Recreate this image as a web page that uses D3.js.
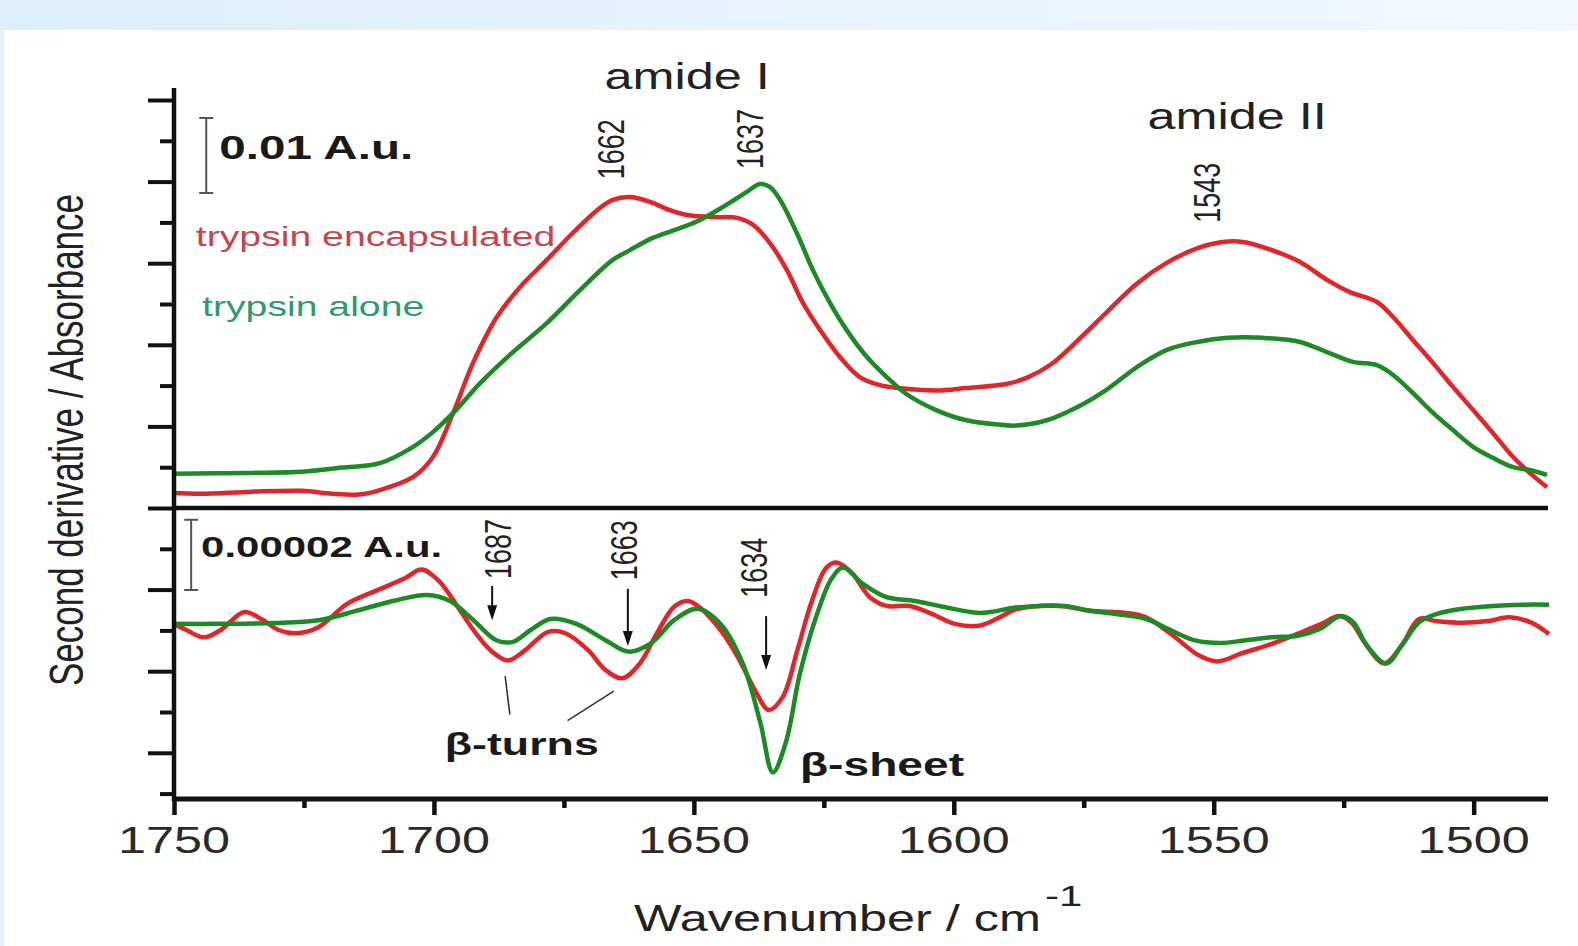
<!DOCTYPE html>
<html>
<head>
<meta charset="utf-8">
<script src="https://cdn.jsdelivr.net/npm/d3@7"></script>
<style>
  body { margin: 0; background: #fff; }
  text { font-family: "Liberation Sans", Arial, sans-serif; }
</style>
</head>
<body>
<div id="container"></div>
<script>
// spectra: [wavenumber, value in tick units]
const topRed = [[1750.0,0.37],[1744.8,0.35],[1735.1,0.40],[1725.4,0.42],[1719.6,0.35],[1714.5,0.33],[1710.4,0.44],[1704.0,0.76],[1700.2,1.25],[1696.3,2.33],[1692.5,3.55],[1687.9,4.68],[1683.4,5.42],[1678.3,6.08],[1673.3,6.74],[1668.6,7.30],[1665.6,7.55],[1662.3,7.62],[1658.4,7.50],[1654.6,7.30],[1651.3,7.18],[1646.3,7.13],[1641.7,7.11],[1638.6,6.94],[1635.4,6.50],[1632.1,5.83],[1629.0,5.02],[1625.7,4.36],[1621.9,3.70],[1618.1,3.21],[1614.2,3.01],[1610.7,2.94],[1603.4,2.88],[1597.6,2.94],[1589.9,3.04],[1586.0,3.19],[1581.2,3.53],[1575.4,4.20],[1570.5,4.81],[1564.7,5.51],[1558.9,6.02],[1553.1,6.37],[1548.3,6.52],[1544.4,6.52],[1539.5,6.35],[1533.4,6.03],[1528.2,5.59],[1523.8,5.29],[1518.6,5.05],[1515.5,4.68],[1511.7,4.12],[1507.8,3.55],[1504.0,2.97],[1500.1,2.40],[1496.3,1.84],[1492.4,1.25],[1489.2,0.86],[1485.9,0.51]]

const topGreen = [[1750.0,0.84],[1735.1,0.86],[1725.4,0.89],[1717.7,0.99],[1710.4,1.10],[1704.0,1.50],[1700.2,1.86],[1696.3,2.33],[1691.1,3.06],[1684.8,3.82],[1678.3,4.53],[1671.9,5.34],[1665.6,6.08],[1662.3,6.32],[1657.9,6.62],[1652.7,6.86],[1648.8,7.06],[1644.4,7.38],[1639.8,7.75],[1637.3,7.94],[1635.4,7.87],[1633.4,7.55],[1630.2,6.74],[1627.1,5.83],[1623.8,5.02],[1620.6,4.36],[1616.7,3.70],[1612.9,3.21],[1609.2,2.80],[1603.4,2.40],[1597.6,2.15],[1591.8,2.05],[1588.0,2.02],[1582.1,2.15],[1576.3,2.47],[1570.5,2.91],[1564.7,3.46],[1558.9,3.88],[1553.1,4.07],[1547.3,4.17],[1540.5,4.17],[1533.4,4.07],[1528.2,3.82],[1523.2,3.58],[1518.6,3.50],[1515.5,3.26],[1511.7,2.82],[1507.8,2.33],[1504.0,1.91],[1500.1,1.50],[1496.3,1.23],[1492.4,1.00],[1489.2,0.93],[1485.9,0.81]]

const botRed = [[1750.0,4.16],[1747.6,4.01],[1744.3,3.83],[1741.0,4.01],[1736.5,4.45],[1733.2,4.28],[1729.9,4.01],[1726.6,3.93],[1722.2,4.08],[1716.7,4.65],[1711.2,4.97],[1705.7,5.27],[1702.4,5.49],[1699.1,5.22],[1695.8,4.65],[1692.4,4.01],[1689.1,3.51],[1685.8,3.26],[1682.5,3.51],[1678.1,3.96],[1674.7,3.93],[1670.3,3.51],[1667.0,3.03],[1663.7,2.83],[1660.4,3.19],[1657.1,3.93],[1653.8,4.58],[1651.1,4.72],[1648.3,4.50],[1644.9,4.01],[1641.6,3.36],[1638.3,2.55],[1635.6,2.05],[1632.9,2.37],[1630.1,3.51],[1627.3,4.72],[1624.5,5.54],[1622.4,5.66],[1619.5,5.39],[1616.2,4.82],[1612.9,4.60],[1608.5,4.60],[1604.1,4.40],[1599.8,4.16],[1594.9,4.12],[1591.2,4.32],[1587.9,4.52],[1579.6,4.60],[1573.8,4.48],[1567.0,4.43],[1563.0,4.32],[1557.9,3.88],[1552.9,3.39],[1549.2,3.24],[1544.6,3.44],[1538.8,3.67],[1533.0,3.96],[1529.3,4.16],[1525.9,4.35],[1523.5,4.19],[1521.0,3.71],[1517.2,3.19],[1513.8,3.64],[1510.5,4.28],[1507.2,4.23],[1502.2,4.19],[1497.2,4.23],[1493.1,4.32],[1488.9,4.19],[1485.5,3.91]]

const botGreen = [[1750.0,4.16],[1742.1,4.16],[1731.0,4.18],[1722.2,4.25],[1714.6,4.49],[1707.9,4.72],[1701.3,4.87],[1696.9,4.72],[1692.4,4.25],[1688.0,3.76],[1684.8,3.72],[1681.4,4.01],[1677.6,4.28],[1672.6,4.16],[1667.0,3.76],[1662.6,3.48],[1658.2,3.69],[1653.8,4.25],[1649.3,4.53],[1644.9,4.16],[1640.6,3.19],[1637.2,1.73],[1634.8,0.52],[1632.3,1.26],[1629.6,2.94],[1626.3,4.40],[1623.5,5.27],[1621.3,5.54],[1617.5,5.14],[1613.1,4.82],[1607.5,4.72],[1602.1,4.58],[1595.4,4.43],[1592.9,4.45],[1588.7,4.55],[1583.7,4.60],[1578.7,4.60],[1573.8,4.48],[1568.8,4.40],[1563.0,4.28],[1558.7,4.03],[1553.8,3.76],[1548.8,3.69],[1543.8,3.76],[1538.8,3.83],[1533.8,3.87],[1529.7,4.03],[1525.5,4.35],[1523.1,4.19],[1520.6,3.64],[1516.8,3.19],[1513.8,3.64],[1510.5,4.20],[1507.2,4.40],[1502.2,4.53],[1496.3,4.60],[1490.6,4.63],[1485.5,4.63]]

const xTicks = [1750, 1700, 1650, 1600, 1550, 1500]
const xMinor = [1725, 1675, 1625, 1575, 1525]

// peak labels (label position, bottom end of the text)
const topPeaks = [
  { t: "1662", wn: 1663.4, y: 8.06 },
  { t: "1637", wn: 1636.7, y: 8.31 },
  { t: "1543", wn: 1548.8, y: 6.99 }
]
const botPeaks = [
  { t: "1687", wn: 1685.2, y: 5.26, at: 1688.8, tail: 5.09, tip: 4.25 },
  { t: "1663", wn: 1661.0, y: 5.23, at: 1662.7, tail: 5.02, tip: 3.62 },
  { t: "1634", wn: 1635.9, y: 4.80, at: 1636.1, tail: 4.35, tip: 3.03 }
]
const turnPointers = [
  [[1686.3, 2.88], [1685.4, 1.94]],
  [[1665.4, 2.51], [1674.3, 1.79]]
]

const red = "#e0262b"
const green = "#1c8a25"
const SX = 1.4 // the original figure is stretched sideways, text too

const w = 1578
const h = 946

const svg = d3.select("#container")
  .append("svg")
  .attr("width", w)
  .attr("height", h)

// page background: pale blue band on top and left
const grad = svg.append("defs").append("linearGradient").attr("id", "band")
grad.append("stop").attr("offset", "0%").attr("stop-color", "#dcedfb")
grad.append("stop").attr("offset", "100%").attr("stop-color", "#f2f8fe")
svg.append("rect").attr("width", w).attr("height", 30).attr("fill", "url(#band)")
svg.append("rect").attr("y", 30).attr("width", 4).attr("height", h - 30).attr("fill", "#e3f1fc")

const x = d3.scaleLinear().domain([1750, 1485.7]).range([174, 1548])
const yTop = d3.scaleLinear().domain([0, 10]).range([508, 100])
const yBot = d3.scaleLinear().domain([0, 7]).range([793.6, 508])
const axisY = 799

const label = (px, py, str, o = {}) => {
  return svg.append("text")
    .attr("transform", `translate(${px},${py}) scale(${SX},1)` + (o.rotate ? ` rotate(${o.rotate})` : ""))
    .attr("text-anchor", o.anchor || "start")
    .attr("font-size", o.size || 36)
    .attr("font-weight", o.bold ? "bold" : "normal")
    .attr("fill", o.fill || "#222")
    .text(str)
}

// curves
const drawCurve = (data, y, color) => {
  const line = d3.line()
    .x(d => x(d[0]))
    .y(d => y(d[1]))
    .curve(d3.curveCatmullRom.alpha(0.5))
  svg.append("path")
    .datum(data)
    .attr("d", line)
    .attr("fill", "none")
    .attr("stroke", color)
    .attr("stroke-width", 4.5)
    .attr("stroke-linejoin", "round")
}
drawCurve(topRed, yTop, red)
drawCurve(topGreen, yTop, green)
drawCurve(botRed, yBot, red)
drawCurve(botGreen, yBot, green)

// left ticks, long and short
const leftTicks = (scale, values, size) => {
  svg.append("g")
    .attr("transform", "translate(174,0)")
    .call(d3.axisLeft(scale).tickValues(values).tickSize(size).tickFormat(""))
    .call(g => g.select(".domain").remove())
    .call(g => g.selectAll("line").attr("stroke", "#111").attr("stroke-width", 4))
}
leftTicks(yTop, [0, 2, 4, 6, 8, 10], 26)
leftTicks(yTop, [1, 3, 5, 7, 9], 14)
leftTicks(yBot, [1, 3, 5], 26)
leftTicks(yBot, [0, 2, 4, 6], 14)

// bottom ticks
const bottomTicks = (values, size) => {
  svg.append("g")
    .attr("transform", `translate(0,${axisY})`)
    .call(d3.axisBottom(x).tickValues(values).tickSize(size).tickFormat(""))
    .call(g => g.select(".domain").remove())
    .call(g => g.selectAll("line").attr("stroke", "#111").attr("stroke-width", 4.5))
}
bottomTicks(xTicks, 16)
bottomTicks(xMinor, 9)

// frame lines
svg.append("line").attr("x1", 174).attr("x2", 174).attr("y1", 88).attr("y2", axisY + 2)
  .attr("stroke", "#111").attr("stroke-width", 4.5)
svg.append("line").attr("x1", 172).attr("x2", x.range()[1]).attr("y1", yTop(0)).attr("y2", yTop(0))
  .attr("stroke", "#111").attr("stroke-width", 4.5)
svg.append("line").attr("x1", 172).attr("x2", x.range()[1]).attr("y1", axisY).attr("y2", axisY)
  .attr("stroke", "#111").attr("stroke-width", 5)

xTicks.forEach(v => label(x(v), 853, v, { anchor: "middle", size: 36, fill: "#2a2a2a" }))

// axis titles
label(83, 440, "Second derivative / Absorbance", { anchor: "middle", size: 35, rotate: -90 })
const xt = label(634, 931, "Wavenumber / cm", { size: 36 })
xt.append("tspan").attr("dx", 3).attr("dy", -25).attr("font-size", 30).text("-1")

// scale bars
const scaleBar = (px, y1, y2) => {
  svg.append("path")
    .attr("d", `M${px - 7},${y1}H${px + 7}M${px},${y1}V${y2}M${px - 7},${y2}H${px + 7}`)
    .attr("fill", "none").attr("stroke", "#555").attr("stroke-width", 2)
}
scaleBar(x(1743.8), yTop(9.56), yTop(7.72))
label(x(1741.3), yTop(8.55), "0.01 A.u.", { size: 34, bold: true, fill: "#1a1a1a" })
scaleBar(x(1746.7), yBot(6.71), yBot(4.99))
label(x(1744.8), yBot(5.81), "0.00002 A.u.", { size: 30, bold: true, fill: "#1a1a1a" })

// legend text
label(x(1745.8), yTop(6.42), "trypsin encapsulated", { size: 28, fill: "#c8444c" })
label(x(1744.6), yTop(4.71), "trypsin alone", { size: 28, fill: "#2f9a6c" })

// band names
label(x(1651.3), yTop(10.27), "amide I", { anchor: "middle", size: 36 })
label(x(1545.5), yTop(9.29), "amide II", { anchor: "middle", size: 36 })

topPeaks.forEach(p => label(x(p.wn), yTop(p.y), p.t, { size: 27, rotate: -90 }))
botPeaks.forEach(p => {
  label(x(p.wn), yBot(p.y), p.t, { size: 27, rotate: -90 })
  const ax = x(p.at)
  const tip = yBot(p.tip)
  svg.append("line").attr("x1", ax).attr("x2", ax).attr("y1", yBot(p.tail)).attr("y2", tip - 10)
    .attr("stroke", "#111").attr("stroke-width", 2)
  svg.append("path")
    .attr("d", `M${ax - 5},${tip - 15}L${ax + 5},${tip - 15}L${ax},${tip}Z`)
    .attr("fill", "#111")
})

turnPointers.forEach(s => {
  svg.append("line")
    .attr("x1", x(s[0][0])).attr("y1", yBot(s[0][1]))
    .attr("x2", x(s[1][0])).attr("y2", yBot(s[1][1]))
    .attr("stroke", "#333").attr("stroke-width", 1.6)
})
label(x(1683.1), yBot(0.95), "β-turns", { anchor: "middle", size: 32, bold: true, fill: "#1a1a1a" })
label(x(1629.6), yBot(0.43), "β-sheet", { size: 33, bold: true, fill: "#1a1a1a" })
</script>
</body>
</html>
